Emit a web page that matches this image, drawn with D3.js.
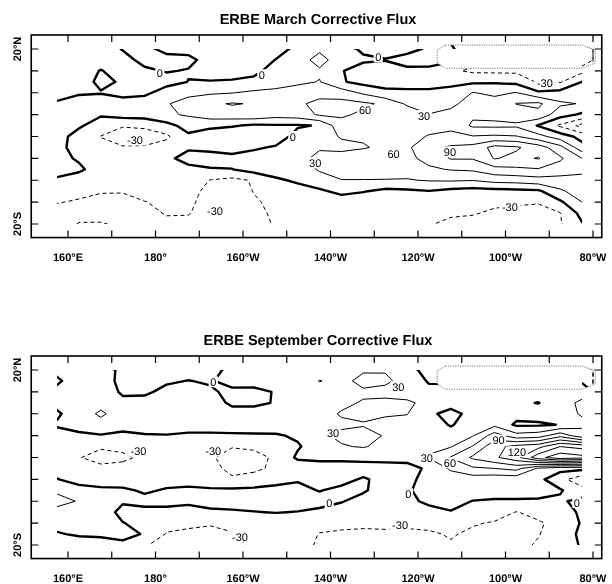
<!DOCTYPE html>
<html>
<head>
<meta charset="utf-8">
<script src="https://cdn.jsdelivr.net/npm/d3@7"></script>
<style>
  body { margin: 0; background: #fff; }
  svg { will-change: transform; }
  text { font-family: "Liberation Sans", Arial, sans-serif; fill: #000;
         text-rendering: geometricPrecision; -webkit-font-smoothing: antialiased; }
</style>
</head>
<body>
<script>
// grid: longitudes (columns) and latitudes (rows)
const lons = d3.range(157.5, 280, 5);
const lats = d3.range(20, -22.5, -2.5);
const levels = [-60, -30, 0, 30, 60, 90, 120, 150, 180, 210];

const lonTicks = [160, 180, 200, 220, 240, 260, 280];
const lonTickLabels = ["160°E", "180°", "160°W", "140°W", "120°W", "100°W", "80°W"];
const latTicks = [20, -20];
const latTickLabels = ["20°N", "20°S"];

// land mask outline (lon, lat)
const maskOutline = [[246.3, 20.9], [277.5, 20.9], [280.5, 19.8], [280.5, 16.8],
  [277.5, 15.6], [246.3, 15.6], [244.4, 16.8], [244.4, 19.8]];

// March flux, one array per longitude, north to south (W m-2)
const marchFlux = [
  [-8,-10,-10,-9,-6,2,10,10,8,6,5,5,-2,-15,-28,-45,-42],
  [-10,-10,-10,-8,-2,8,12,3,-8,-8,-2,3,-8,-20,-34,-48,-62],
  [-10,-8,1,4,-1,10,2,-10,-31,-20,-12,-8,-10,-28,-38,-50,-62],
  [1,-6,-8,-2,-6,8,12,-28,-42,-28,-15,-10,-15,-28,-40,-48,-55],
  [5,5,-3,-8,-4,10,14,-26,-40,-28,-14,-8,-10,-20,-31,-38,-40],
  [-5,6,1,-6,8,27,26,-11,-35,-18,-5,-8,-12,-18,-24,-28,-36],
  [-5,4,-1,0.3,20,45,33,13,-6,-3,8,-6,-12,-18,-24,-28,-38],
  [-8,-6,-8,1,26,55,45,8,-20,-8,12,-2,-31,-40,-42,-44,-42],
  [-10,-8,-8,2,29,62,48,3,-25,-12,8,-0.5,-38,-45,-38,-35,-33],
  [-12,-10,-5,5,36,58,52,-5,-25,-4,12,12,-27,-29,-33,-36,-38],
  [-6,0.5,8,20,36,52,42,-3,-15,3,15,12,-4,-18,-24,-26,-28],
  [4,20,18,25,42,55,45,-3,10,18,24,20,4,-10,-18,-22,-25],
  [26,38,27,31,50,68,64,2,20,28,35,32,22,-6,-15,-20,-22],
  [12,18,2,3,45,70,64,50,32,24,40,45,29,10,-20,-22,-24],
  [-5,5,-15,-10,25,65,55,45,33,28,45,45,29,2,-20,-22,-24],
  [-8,1,-12,-8,5,55,50,45,40,35,45,40,29,-8,-20,-24,-26],
  [-4,5,-3,-10,5,25,50,45,50,55,52,42,28,-5,-18,-24,-27],
  [2,8,-5,-12,6,18,31,50,62,80,70,55,32,-1,-18,-24,-29],
  [4,6,-25,-8,10,22,40,55,65,95,92,62,33,-8,-20,-28,-33],
  [-20,-20,-35,-5,31,45,35,25,62,100,92,65,31,-12,-20,-28,-38],
  [-20,-20,-36,-4,25,40,38,24,65,130,122,80,40,-10,-25,-34,-40],
  [-20,-20,-36,-8,31,61,45,25,62,124,112,85,42,-8,-27,-36,-42],
  [-20,-20,-40,-34,5,66,52,-2,40,105,122,88,48,-5,-28,-40,-45],
  [-20,-20,-42,-33,10,35,12,-35,15,70,95,75,50,25,-5,-31,-32],
  [-20,-20,-38,0.5,25,28,-5,-70,-10,10,60,68,50,45,30,10,-2]
];

// September flux, same layout
const septFlux = [
  [5,-3,5,8,-4,3,-10,-15,-18,-8,1,25,40,20,8,-2,-10],
  [12,10,12,15,15,8,-4,-15,-28,-15,-10,10,28,20,12,3,-12],
  [10,10,12,20,35,20,-2,-25,-45,-20,-12,5,15,15,12,4,-10],
  [-5,-6,-3,5,15,10,-6,-20,-38,-18,-12,4,3,-8,1,8,-6],
  [-8,-6,-4,8,18,12,-2,-15,-22,-15,-10,-3,6,-6,-8,-2,-28],
  [-8,-3,6,12,15,10,-1,-12,-18,-15,-8,2,8,-8,-20,-32,-38],
  [-8,0.5,8,12,14,8,-3,-12,-20,-15,-6,3,5,-10,-24,-36,-40],
  [-6,-2,3,10,14,8,-3,-20,-25,-18,-8,2,8,-4,-28,-36,-38],
  [5,8,-5,-4,8,10,-3,-28,-45,-40,-25,5,10,-3,-22,-32,-36],
  [8,6,-4,-3,6,12,-3,-25,-40,-38,-15,5,12,-1,-18,-22,-26],
  [10,10,1,1,10,15,-3,-20,-25,-22,-8,7,12,1,-16,-20,-24],
  [12,15,12,15,18,15,4,-3,5,-20,-2,6,12,-1,-12,-18,-22],
  [18,31,20,25,22,22,25,15,8,-15,-5,-1,8,-5,-22,-31,-33],
  [20,22,26,25,32,26,35,28,8,-15,-8,6,2,-15,-25,-33,-35],
  [27,38,26,32,36,28,40,32,8,-12,3,4,-12,-18,-26,-34,-36],
  [28,35,22,36,32,25,28,22,8,-10,-8,-15,-18,-20,-26,-33,-35],
  [5,20,22,33,31,20,22,18,8,-8,-6,-3,-6,-15,-27,-33,-35],
  [-5,-3,8,25,5,12,18,25,32,4,8,10,5,-8,-24,-33,-36],
  [-5,-5,12,10,-8,-2,10,28,62,35,12,10,6,-1,-24,-28,-32],
  [-5,-5,15,12,8,12,28,62,95,55,15,8,-0.5,-20,-28,-34,-36],
  [-5,-5,15,10,8,22,75,110,115,60,10,8,-2,-20,-32,-36,-38],
  [-5,-5,15,5,10,-5,40,130,140,70,10,8,-2,-31,-35,-36,-35],
  [-5,-5,15,-1,12,-4,45,140,200,25,8,6,-2,-22,-33,-31,-28],
  [-5,-5,15,20,22,1,80,180,230,10,-20,3,-5,-8,-22,-20,-25],
  [-5,-5,20,35,32,25,40,170,220,8,-50,-20,10,3,3,8,5]
];

// contour labels: lon, lat, text
const marchLabels = [
  [181.0, 14.6, "0"], [204.3, 14.1, "0"], [230.9, 18.2, "0"], [211.4, 0.0, "0"],
  [227.9, 6.1, "60"], [241.4, 4.8, "30"], [216.5, -6.0, "30"], [234.4, -4.0, "60"],
  [247.3, -3.5, "90"], [175.3, -0.8, "-30"], [193.6, -17.0, "-30"],
  [269.0, 12.2, "-30"], [261.0, -16.0, "-30"]
];
const septLabels = [
  [193.2, 17.3, "0"], [235.5, 16.2, "30"], [220.6, 5.5, "30"], [176.1, 1.5, "-30"],
  [193.2, 1.5, "-30"], [242.0, -0.2, "30"], [247.3, -1.2, "60"], [258.4, 4.0, "90"],
  [262.6, 1.3, "120"], [219.7, -10.5, "0"], [237.8, -8.3, "0"], [276.3, -10.3, "0"],
  [199.3, -18.1, "-30"], [235.9, -15.4, "-30"]
];

const panels = [
  {title: "ERBE March Corrective Flux", flux: marchFlux, labels: marchLabels, off: 0},
  {title: "ERBE September Corrective Flux", flux: septFlux, labels: septLabels, off: 321}
];

const W = 612, H = 584;
const svg = d3.select("body").append("svg")
  .attr("width", W).attr("height", H)
  .attr("style", "display:block");

const x = d3.scaleLinear().domain([160, 280]).range([68, 593]);
const nx = lons.length, ny = lats.length;
const gLon = d3.scaleLinear().domain([0.5, nx - 0.5]).range([lons[0], lons[nx - 1]]);
const gLat = d3.scaleLinear().domain([0.5, ny - 0.5]).range([lats[0], lats[ny - 1]]);

panels.forEach((p, k) => {
  const y = d3.scaleLinear().domain([20, -20]).range([49 + p.off, 224 + p.off]);
  const g = svg.append("g");

  // flatten columns into the row-major grid d3.contours wants
  const values = new Array(nx * ny);
  p.flux.forEach((col, i) => col.forEach((v, j) => { values[j * nx + i] = v; }));

  const contours = d3.contours().size([nx, ny]).thresholds(levels)(values);

  const path = d3.geoPath(d3.geoTransform({
    point: function(px, py) { this.stream.point(x(gLon(px)), y(gLat(py))); }
  }));

  // clip: data area minus the land mask
  const ring = (pts) => "M" + pts.map(d => x(d[0]) + "," + y(d[1])).join("L") + "Z";
  const area = [[lons[0], lats[0]], [lons[nx - 1], lats[0]],
    [lons[nx - 1], lats[ny - 1]], [lons[0], lats[ny - 1]]];
  svg.append("clipPath").attr("id", "clip" + k)
    .append("path")
    .attr("clip-rule", "evenodd")
    .attr("d", ring(area) + ring(maskOutline));

  g.append("g")
    .attr("clip-path", `url(#clip${k})`)
    .selectAll("path")
    .data(contours)
    .enter().append("path")
      .attr("d", path)
      .attr("fill", "none")
      .attr("stroke", "#000")
      .attr("stroke-linejoin", "round")
      .attr("stroke-width", d => d.value === 0 ? 2.4 : 1)
      .attr("stroke-dasharray", d => d.value < 0 ? "4,3" : null);

  // mask outline
  g.append("path")
    .attr("d", ring(maskOutline))
    .attr("fill", "none")
    .attr("stroke", "#777")
    .attr("stroke-width", 1)
    .attr("stroke-dasharray", "1.2,1.2");

  // contour labels on a white patch that cuts the line
  const lab = g.selectAll(".lab")
    .data(p.labels)
    .enter().append("g")
      .attr("class", "lab")
      .attr("transform", d => `translate(${x(d[0])},${y(d[1])})`);
  lab.append("rect")
    .attr("x", d => -d[2].length * 3.1 - 1.5)
    .attr("y", -5.5)
    .attr("width", d => d[2].length * 6.2 + 3)
    .attr("height", 11)
    .attr("fill", "#fff");
  lab.append("text")
    .attr("y", 4)
    .attr("text-anchor", "middle")
    .attr("font-size", 11)
    .text(d => d[2]);

  // frame
  const fx0 = x(151.6), fx1 = x(282), fy0 = y(23.2), fy1 = y(-23.1);
  g.append("rect")
    .attr("x", fx0).attr("y", fy0)
    .attr("width", fx1 - fx0).attr("height", fy1 - fy0)
    .attr("fill", "none").attr("stroke", "#000").attr("stroke-width", 1.6);

  const tl = 7;
  const lonMinor = d3.range(160, 281, 10);
  g.selectAll(".tx").data(lonMinor).enter().append("path")
    .attr("d", d => `M${x(d)},${fy0}v${tl}M${x(d)},${fy1}v${-tl}`)
    .attr("stroke", "#000").attr("stroke-width", 1.2);
  const latMinor = d3.range(-20, 21, 5);
  g.selectAll(".ty").data(latMinor).enter().append("path")
    .attr("d", d => `M${fx0},${y(d)}h${tl}M${fx1},${y(d)}h${-tl}`)
    .attr("stroke", "#000").attr("stroke-width", 1.2);

  g.selectAll(".xl").data(lonTicks).enter().append("text")
    .attr("x", d => x(d))
    .attr("y", fy1 + 23.5)
    .attr("text-anchor", "middle")
    .attr("font-size", 11).attr("font-weight", "bold")
    .text((d, i) => lonTickLabels[i]);

  g.selectAll(".yl").data(latTicks).enter().append("text")
    .attr("transform", d => `translate(20.5,${y(d)}) rotate(-90)`)
    .attr("text-anchor", "middle")
    .attr("font-size", 11).attr("font-weight", "bold")
    .text((d, i) => latTickLabels[i]);

  g.append("text")
    .attr("x", 318).attr("y", 24 + p.off)
    .attr("text-anchor", "middle")
    .attr("font-size", 14.5).attr("font-weight", "bold")
    .text(p.title);
});
</script>
</body>
</html>
